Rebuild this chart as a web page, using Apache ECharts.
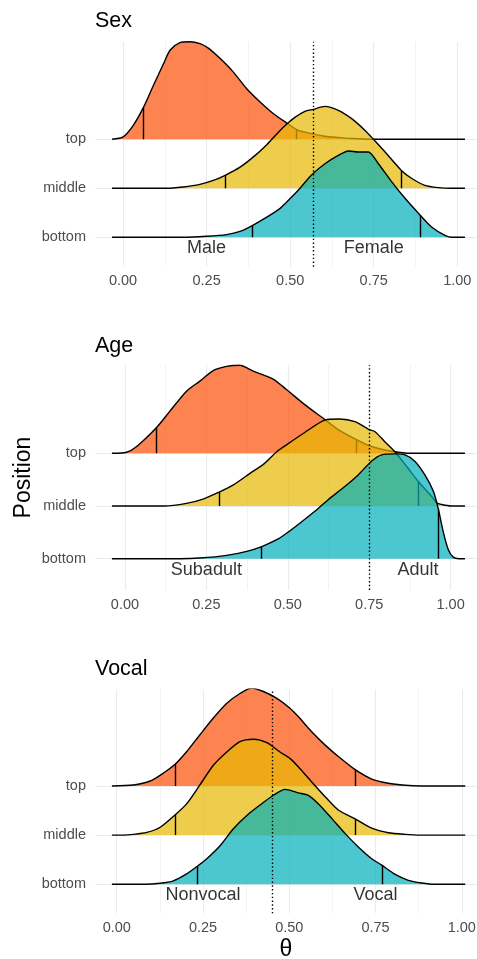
<!DOCTYPE html>
<html>
<head>
<meta charset="utf-8">
<script src="https://cdn.jsdelivr.net/npm/echarts@6/dist/echarts.min.js"></script>
<style>
html, body { margin: 0; padding: 0; background: #fff; }
#main { width: 477px; height: 959px; }
</style>
</head>
<body>
<div id="main"></div>
<script>
// ridgeline posterior densities of theta by position, one panel per trait
const rowNames = ['bottom', 'middle', 'top'];
const xTicks = [0, 0.25, 0.5, 0.75, 1];
const xMinorTicks = [0.125, 0.375, 0.625, 0.875];

// [theta, height above baseline in row units]
const sexTop = [[-0.033,0],[0,0.047],[0.031,0.29],[0.061,0.65],[0.091,1.10],[0.121,1.54],[0.141,1.82],[0.17,1.97],[0.2,1.99],[0.23,1.95],[0.255,1.86],[0.29,1.65],[0.33,1.37],[0.37,1.03],[0.41,0.76],[0.45,0.52],[0.49,0.33],[0.524,0.18],[0.564,0.116],[0.604,0.06],[0.644,0.035],[0.684,0.014],[0.744,0],[1.023,0]];
const sexMid = [[-0.033,0],[0.13,0],[0.18,0.027],[0.23,0.08],[0.27,0.16],[0.307,0.27],[0.35,0.43],[0.39,0.64],[0.43,0.89],[0.47,1.18],[0.49,1.31],[0.515,1.45],[0.544,1.57],[0.569,1.61],[0.604,1.67],[0.644,1.59],[0.684,1.42],[0.724,1.18],[0.749,1.0],[0.784,0.74],[0.832,0.37],[0.864,0.2],[0.903,0.06],[0.943,0.014],[0.98,0],[1.023,0]];
const sexBot = [[-0.033,0],[0.18,0],[0.25,0.02],[0.31,0.055],[0.35,0.12],[0.388,0.245],[0.43,0.41],[0.47,0.59],[0.485,0.69],[0.524,0.96],[0.564,1.27],[0.604,1.50],[0.644,1.67],[0.674,1.76],[0.704,1.74],[0.734,1.74],[0.764,1.50],[0.804,1.13],[0.843,0.80],[0.889,0.45],[0.923,0.21],[0.963,0.04],[0.985,0],[1.023,0]];
const sexTopQ = [[0.061,0.65],[0.519,0.2]];
const sexMidQ = [[0.307,0.27],[0.832,0.37]];
const sexBotQ = [[0.388,0.245],[0.889,0.45]];

const ageTop = [[-0.04,0],[0.005,0.02],[0.036,0.13],[0.097,0.49],[0.138,0.80],[0.189,1.18],[0.23,1.37],[0.271,1.57],[0.312,1.65],[0.353,1.67],[0.394,1.56],[0.455,1.41],[0.496,1.21],[0.553,0.92],[0.614,0.64],[0.655,0.45],[0.711,0.26],[0.757,0.13],[0.819,0.04],[0.86,0.006],[0.9,0],[1.044,0]];
const ageMid = [[-0.04,0],[0.12,0],[0.189,0.05],[0.24,0.13],[0.288,0.26],[0.333,0.40],[0.384,0.62],[0.425,0.79],[0.466,1.03],[0.491,1.14],[0.553,1.40],[0.614,1.63],[0.66,1.65],[0.706,1.60],[0.747,1.46],[0.768,1.41],[0.798,1.22],[0.829,1.03],[0.88,0.63],[0.9,0.47],[0.942,0.18],[0.957,0.06],[0.972,0.03],[1.0,0],[1.044,0]];
const ageBot = [[-0.04,0],[0.17,0],[0.23,0.013],[0.312,0.063],[0.374,0.14],[0.42,0.23],[0.466,0.36],[0.491,0.46],[0.532,0.65],[0.583,0.90],[0.624,1.12],[0.675,1.37],[0.716,1.59],[0.757,1.85],[0.788,1.97],[0.829,1.99],[0.86,1.97],[0.89,1.85],[0.921,1.59],[0.947,1.28],[0.962,0.95],[0.977,0.52],[0.993,0.17],[1.008,0.03],[1.025,0],[1.044,0]];
const ageTopQ = [[0.097,0.49],[0.711,0.26]];
const ageMidQ = [[0.288,0.26],[0.9,0.47]];
const ageBotQ = [[0.42,0.23],[0.962,0.95]];

const vocTop = [[-0.014,0],[0.048,0.02],[0.097,0.10],[0.135,0.26],[0.169,0.44],[0.203,0.70],[0.241,1.04],[0.28,1.38],[0.319,1.68],[0.357,1.88],[0.391,1.99],[0.425,1.92],[0.464,1.78],[0.502,1.58],[0.526,1.41],[0.565,1.10],[0.604,0.83],[0.642,0.60],[0.691,0.33],[0.739,0.14],[0.787,0.055],[0.836,0.014],[0.88,0],[1.01,0]];
const vocMid = [[-0.014,0],[0.02,0],[0.048,0.014],[0.087,0.055],[0.126,0.16],[0.169,0.41],[0.203,0.64],[0.241,1.02],[0.28,1.42],[0.319,1.69],[0.357,1.90],[0.396,1.95],[0.435,1.88],[0.473,1.69],[0.502,1.56],[0.526,1.39],[0.565,1.08],[0.604,0.78],[0.642,0.51],[0.691,0.33],[0.739,0.14],[0.787,0.047],[0.836,0.014],[0.88,0],[1.01,0]];
const vocBot = [[-0.014,0],[0.08,0],[0.126,0.02],[0.164,0.07],[0.2,0.2],[0.234,0.37],[0.261,0.52],[0.3,0.79],[0.338,1.13],[0.377,1.40],[0.415,1.61],[0.454,1.81],[0.488,1.93],[0.526,1.86],[0.555,1.81],[0.584,1.64],[0.623,1.34],[0.662,1.03],[0.7,0.76],[0.739,0.52],[0.768,0.39],[0.807,0.20],[0.845,0.08],[0.884,0.026],[0.92,0],[1.01,0]];
const vocTopQ = [[0.169,0.44],[0.691,0.33]];
const vocMidQ = [[0.169,0.41],[0.691,0.33]];
const vocBotQ = [[0.234,0.37],[0.768,0.39]];

const cutoffs = [0.569, 0.749, 0.452];
const sexLabels = [['Male', 0.25], ['Female', 0.75]];
const ageLabels = [['Subadult', 0.25], ['Adult', 0.9]];
const vocLabels = [['Nonvocal', 0.25], ['Vocal', 0.75]];
const labelRow = 0.79;

const FONT = '"Liberation Sans", Arial, sans-serif';
const fills = { top: '#FC4E07', middle: '#E7B800', bottom: '#00AFBB' };

const panels = [
  { title: 'Sex', ridges: { top: sexTop, middle: sexMid, bottom: sexBot },
    q: { top: sexTopQ, middle: sexMidQ, bottom: sexBotQ }, labels: sexLabels,
    gridTop: 41.7, gridH: 225, x: [-0.084, 1.059], y: [0.4, 4.99], titleTop: 10 },
  { title: 'Age', ridges: { top: ageTop, middle: ageMid, bottom: ageBot },
    q: { top: ageTopQ, middle: ageMidQ, bottom: ageBotQ }, labels: ageLabels,
    gridTop: 365, gridH: 225, x: [-0.092, 1.081], y: [0.406, 4.676], titleTop: 335 },
  { title: 'Vocal', ridges: { top: vocTop, middle: vocMid, bottom: vocBot },
    q: { top: vocTopQ, middle: vocMidQ, bottom: vocBotQ }, labels: vocLabels,
    gridTop: 689.3, gridH: 224, x: [-0.063, 1.044], y: [0.41, 4.965], titleTop: 658 }
];

const chart = echarts.init(document.getElementById('main'));
const grids = [], xAxes = [], yAxes = [], titles = [], series = [];

panels.forEach((p, i) => {
  const [x0, x1] = p.x, [y0, y1] = p.y;
  grids.push({ left: 95, right: 0, top: p.gridTop, height: p.gridH,
    containLabel: false, outerBoundsMode: 'none' });
  titles.push({ text: p.title, left: 95, top: p.titleTop, padding: 0,
    textStyle: { fontFamily: FONT, fontSize: 21.5, fontWeight: 'normal', color: '#000' } });
  xAxes.push({
    type: 'value', gridIndex: i, min: x0, max: x1,
    axisLine: { show: false }, axisTick: { show: false }, splitLine: { show: false },
    axisLabel: { customValues: xTicks, formatter: v => v.toFixed(2), color: '#4D4D4D',
      fontFamily: FONT, fontSize: 14.5, margin: 7 },
    name: i === 2 ? 'θ' : '', nameLocation: 'middle', nameGap: 25, nameMoveOverlap: false,
    nameTextStyle: { fontFamily: FONT, fontSize: 23, color: '#000' }
  });
  yAxes.push({
    type: 'value', gridIndex: i, min: y0, max: y1,
    axisLine: { show: false }, axisTick: { show: false }, splitLine: { show: false },
    axisLabel: { customValues: [1, 2, 3], formatter: v => rowNames[Math.round(v) - 1],
      color: '#4D4D4D', fontFamily: FONT, fontSize: 14.5, margin: 9 },
    name: i === 1 ? 'Position' : '', nameLocation: 'middle', nameGap: 60, nameMoveOverlap: false,
    nameTextStyle: { fontFamily: FONT, fontSize: 23, color: '#000' }
  });

  // panel grid lines
  const gl = [];
  xTicks.forEach(v => gl.push({ coords: [[v, y0], [v, y1]], lineStyle: { width: 1.1 } }));
  xMinorTicks.forEach(v => gl.push({ coords: [[v, y0], [v, y1]], lineStyle: { width: 0.6 } }));
  [1, 2, 3].forEach(r => gl.push({ coords: [[x0, r], [x1, r]], lineStyle: { width: 1.1 } }));
  series.push({ type: 'lines', coordinateSystem: 'cartesian2d', xAxisIndex: i, yAxisIndex: i,
    silent: true, z: 1, lineStyle: { color: '#EBEBEB', opacity: 1 }, data: gl });

  // ridges drawn back to front: top, middle, bottom
  ['top', 'middle', 'bottom'].forEach((name, k) => {
    const row = 3 - k;
    series.push({
      type: 'line', xAxisIndex: i, yAxisIndex: i, z: 2 + 2 * k, silent: true,
      showSymbol: false, smooth: 0.25,
      data: p.ridges[name].map(d => [d[0], row + d[1]]),
      lineStyle: { color: '#000', width: 1.4 },
      areaStyle: { color: fills[name], opacity: 0.7, origin: row }
    });
    series.push({
      type: 'lines', coordinateSystem: 'cartesian2d', xAxisIndex: i, yAxisIndex: i,
      z: 3 + 2 * k, silent: true, lineStyle: { color: '#000', width: 1.4, opacity: 1 },
      data: p.q[name].map(d => ({ coords: [[d[0], row], [d[0], row + d[1]]] }))
    });
  });

  series.push({
    type: 'lines', coordinateSystem: 'cartesian2d', xAxisIndex: i, yAxisIndex: i,
    z: 20, silent: true, lineStyle: { color: '#000', width: 1.4, type: [1.4, 2.4], opacity: 1 },
    data: [{ coords: [[cutoffs[i], y0], [cutoffs[i], y1]] }]
  });

  series.push({
    type: 'scatter', xAxisIndex: i, yAxisIndex: i, z: 21, silent: true, symbolSize: 0,
    data: p.labels.map(l => [l[1], labelRow, l[0]]),
    label: { show: true, position: 'inside', formatter: d => d.data[2],
      fontFamily: FONT, fontSize: 18, color: '#000' }
  });
});

chart.setOption({
  animation: false,
  backgroundColor: '#fff',
  title: titles,
  grid: grids,
  xAxis: xAxes,
  yAxis: yAxes,
  series: series
});
</script>
</body>
</html>
